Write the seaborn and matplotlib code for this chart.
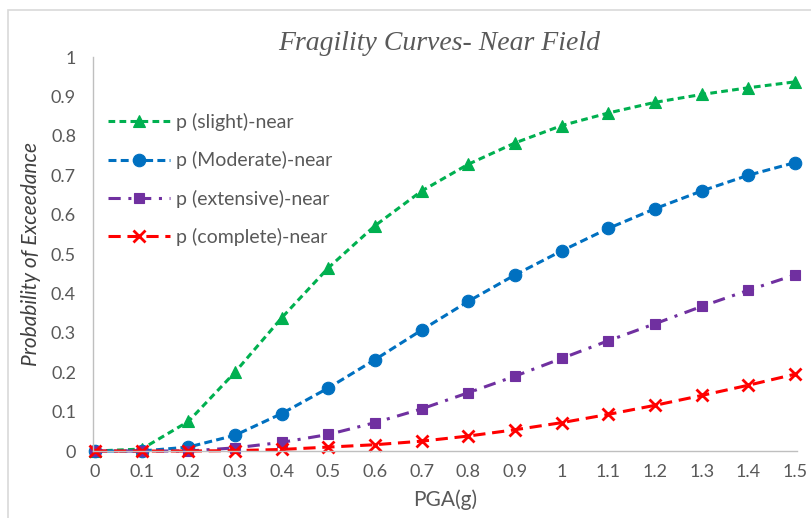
import matplotlib
matplotlib.use("Agg")
import matplotlib.pyplot as plt
import seaborn as sns
import pandas as pd
from matplotlib.patches import Rectangle

pga = [0, 0.1, 0.2, 0.3, 0.4, 0.5, 0.6, 0.7, 0.8, 0.9, 1.0, 1.1, 1.2, 1.3, 1.4, 1.5]
slight = [0, 0.005, 0.075, 0.2, 0.338, 0.465, 0.572, 0.66, 0.728, 0.782, 0.826, 0.858, 0.885, 0.905, 0.922, 0.937]
moderate = [0, 0.0, 0.01, 0.04, 0.095, 0.16, 0.232, 0.307, 0.38, 0.447, 0.508, 0.565, 0.615, 0.66, 0.7, 0.732]
extensive = [0, 0, 0.0, 0.008, 0.022, 0.042, 0.072, 0.107, 0.148, 0.19, 0.235, 0.28, 0.323, 0.367, 0.408, 0.447]
complete = [0, 0, 0, 0.001, 0.004, 0.01, 0.016, 0.025, 0.038, 0.054, 0.072, 0.093, 0.116, 0.141, 0.167, 0.195]
labels = ["p (slight)-near", "p (Moderate)-near", "p (extensive)-near", "p (complete)-near"]
xticks = ["0", "0.1", "0.2", "0.3", "0.4", "0.5", "0.6", "0.7", "0.8", "0.9", "1", "1.1", "1.2", "1.3", "1.4", "1.5"]
yticks = [0, 0.1, 0.2, 0.3, 0.4, 0.5, 0.6, 0.7, 0.8, 0.9, 1]

sns.set_style("white")
plt.rcParams['font.family'] = ['Lato', 'DejaVu Sans']

fig = plt.figure(figsize=(8.11, 5.18), dpi=100)
ax = fig.add_axes([0.1143, 0.1293, 0.8688, 0.7606])

series = [slight, moderate, extensive, complete]
colors = ["#00B050", "#0070C0", "#7030A0", "#FF0000"]
markers = ["^", "o", "s", "x"]
dashes = [(2.2, 1.4), (2.6, 1.4), (4, 2.5, 1, 2.5), (4, 2.2)]
msizes = [9, 9, 7.5, 8]

for vals, lab, c, m, d, ms in zip(series, labels, colors, markers, dashes, msizes):
    df = pd.DataFrame({"PGA": pga, "P": vals})
    sns.lineplot(data=df, x="PGA", y="P", ax=ax, color=c, marker=m, markersize=ms,
                 linewidth=2.2, label=lab, clip_on=False,
                 markeredgecolor=c, markeredgewidth=2 if m == "x" else 0.8)
    ax.lines[-1].set_dashes(d)

ax.set_xlim(-0.005, 1.505)
ax.set_ylim(0, 1)
ax.set_xticks(pga)
ax.set_xticklabels(xticks)
ax.set_yticks(yticks)
ax.set_yticklabels([("%g" % v) for v in yticks])
ax.tick_params(axis="both", colors="#595959", labelsize=13, length=0)
ax.tick_params(axis="x", pad=9)
ax.tick_params(axis="y", pad=12)
for s in ["top", "right"]:
    ax.spines[s].set_visible(False)
for s in ["left", "bottom"]:
    ax.spines[s].set_color("#BFBFBF")
    ax.spines[s].set_linewidth(1)

ax.set_xlabel("PGA(g)", fontsize=15, color="#595959", labelpad=7)
ax.set_ylabel("Probability of Exceedance", fontsize=15, color="#404040",
              fontstyle="italic", labelpad=7)
ax.set_title("Fragility Curves- Near Field", fontsize=20, fontstyle="italic",
             family=["Liberation Serif", "DejaVu Serif"], color="#595959", pad=5,
             x=0.4915)

leg = ax.legend(loc="upper left", bbox_to_anchor=(0.0217, 0.858), frameon=False,
                fontsize=14, labelspacing=1.04, handlelength=3.2, handletextpad=0.3,
                borderaxespad=0, borderpad=0)
for t in leg.get_texts():
    t.set_color("#595959")

fig.patches.append(Rectangle((0.01, -0.01), 1.2, 0.99, transform=fig.transFigure,
                             fill=False, edgecolor="#D9D9D9", linewidth=1.2))

fig.savefig("out.png", dpi=100)
